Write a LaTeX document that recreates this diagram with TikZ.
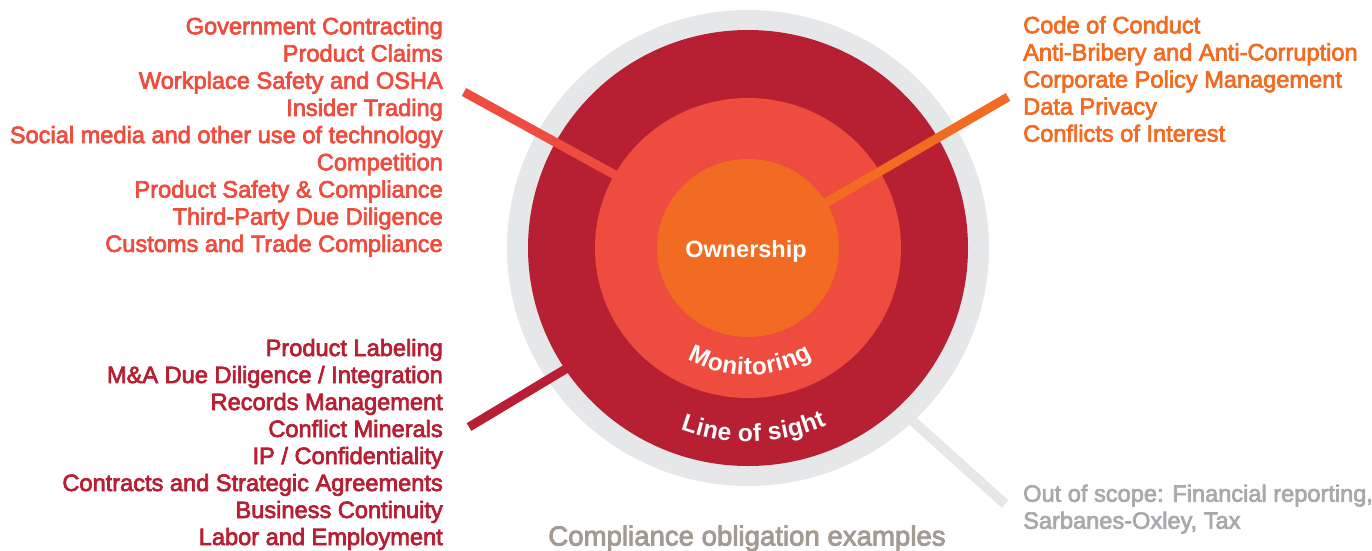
\documentclass[tikz,border=0pt]{standalone}
\usepackage{fontspec}
\setmainfont{Liberation Sans}
\newfontfamily\medfont{Liberation Sans}[BoldFont={Liberation Sans}, BoldFeatures={FakeBold=3}]
\usetikzlibrary{decorations.text}
\definecolor{ringgrey}{HTML}{E6E7E8}
\definecolor{darkred}{HTML}{B71F33}
\definecolor{midred}{HTML}{EE4C3E}
\definecolor{orng}{HTML}{F26B22}
\definecolor{captiongrey}{HTML}{A39A92}
\definecolor{scopegrey}{HTML}{A7A9AC}
\begin{document}
\begin{tikzpicture}[x=1pt,y=-1pt,
  listfont/.style={font=\medfont\bfseries\fontsize{23.6}{27.2}\selectfont, inner sep=0pt},
  leftitem/.style={listfont, anchor=base east},
  rightitem/.style={listfont, anchor=base west},
  spoke/.style={line width=9pt, line cap=butt},
  ringlabel/.style={decorate, decoration={text along path, text align=fit to path, text color=white,
     text={|\bfseries\fontsize{24.5}{26}\selectfont|#1}}}
]
\useasboundingbox (0,0) rectangle (1372,550);
\coordinate (c) at (748,248);

% grey spoke (out of scope)
\coordinate (gs) at (1005,504);
\coordinate (ge) at (875,387);
\draw[spoke, ringgrey, line width=10pt] (gs) -- (ge);

% outer grey ring
\fill[ringgrey] (c) ellipse[x radius=241, y radius=238];

% lower-left spoke (under dark red)
\coordinate (ls) at (469,427);
\coordinate (le) at (669,307);
\draw[spoke, darkred] (ls) -- (le);

% dark red ring
\fill[darkred] (c) ellipse[x radius=220, y radius=218];

% upper-left spoke (under monitoring)
\coordinate (us) at (464,92);
\draw[spoke, midred] (us) -- (c);

% monitoring ring
\fill[midred] (c) ellipse[x radius=153, y radius=150];

% orange spoke (under ownership)
\coordinate (os) at (1008,97);
\draw[spoke, orng] (os) -- (c);

% ownership
\fill[orng] (c) ellipse[x radius=91, y radius=89];
\node[anchor=base, inner sep=0pt, text=white, font=\bfseries\fontsize{23.5}{26}\selectfont] (own) at (746,257) {Ownership};

% curved ring labels
\path[ringlabel=Monitoring] (c) ++(118.5:127) arc[start angle=118.5, end angle=59.5, radius=127];
\path[ringlabel=Line of sight] (c) ++(110.4:194) arc[start angle=110.4, end angle=66.1, radius=194];

% upper-left list
\begin{scope}[every node/.style={leftitem, text=midred}]
\node (a1) at (443,34.3) {Government Contracting};
\node (a2) at (443,61.5) {Product Claims};
\node (a3) at (443,88.7) {Workplace Safety and OSHA};
\node (a4) at (443,115.9) {Insider Trading};
\node (a5) at (443,143.1) {Social media and other use of technology};
\node (a6) at (443,170.3) {Competition};
\node (a7) at (443,197.5) {Product Safety \& Compliance};
\node (a8) at (443,224.7) {Third-Party Due Diligence};
\node (a9) at (443,251.9) {Customs and Trade Compliance};
\end{scope}

% lower-left list
\begin{scope}[every node/.style={leftitem, text=darkred}]
\node (b1) at (443,356) {Product Labeling};
\node (b2) at (443,383) {M\&A Due Diligence / Integration};
\node (b3) at (443,410) {Records Management};
\node (b4) at (443,437) {Conflict Minerals};
\node (b5) at (443,464) {IP / Confidentiality};
\node (b6) at (443,491) {Contracts and Strategic Agreements};
\node (b7) at (443,518) {Business Continuity};
\node (b8) at (443,545) {Labor and Employment};
\end{scope}

% right list
\begin{scope}[every node/.style={rightitem, text=orng}]
\node (r1) at (1023,33.3) {Code of Conduct};
\node (r2) at (1023,60.4) {Anti-Bribery and Anti-Corruption};
\node (r3) at (1023,87.5) {Corporate Policy Management};
\node (r4) at (1023,114.6) {Data Privacy};
\node (r5) at (1023,141.7) {Conflicts of Interest};
\end{scope}

% out of scope
\node[rightitem, text=scopegrey] (s1) at (1023,501.7) {Out of scope: Financial reporting,};
\node[rightitem, text=scopegrey] (s2) at (1023,528.7) {Sarbanes-Oxley, Tax};

% caption
\node[anchor=base, inner sep=0pt, text=captiongrey, font=\medfont\bfseries\fontsize{27.6}{30}\selectfont] (cap) at (747,545.5) {Compliance obligation examples};
\end{tikzpicture}
\end{document}
